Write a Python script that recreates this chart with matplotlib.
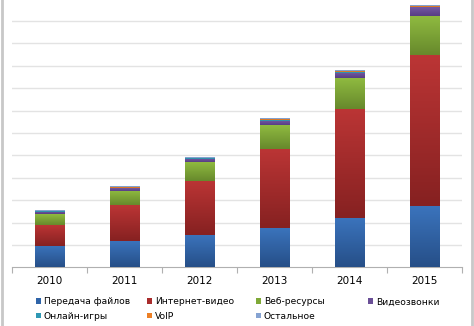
import numpy as np
import matplotlib
matplotlib.use("Agg")
import matplotlib.pyplot as plt
from matplotlib.colors import LinearSegmentedColormap
from matplotlib.lines import Line2D

plt.rcParams['font.family'] = ['DejaVu Sans']

# данные (оценка по картинке)
years = ['2010', '2011', '2012', '2013', '2014', '2015']
peredacha = [0.96, 1.19, 1.43, 1.75, 2.19, 2.75]
video = [0.93, 1.59, 2.44, 3.53, 4.88, 6.73]
veb = [0.48, 0.63, 0.82, 1.07, 1.37, 1.74]
zvonki = [0.11, 0.12, 0.16, 0.20, 0.25, 0.39]
igry = [0.02, 0.02, 0.02, 0.03, 0.03, 0.03]
voip = [0.02, 0.02, 0.03, 0.03, 0.04, 0.04]
ostalnoe = [0.01, 0.01, 0.01, 0.01, 0.02, 0.02]

series = [peredacha, video, veb, zvonki, igry, voip, ostalnoe]
labels = ['Передача файлов', 'Интернет-видео', 'Веб-ресурсы', 'Видеозвонки',
          'Онлайн-игры', 'VoIP', 'Остальное']
# (верх, низ) градиента и цвет легенды
colors = [('#3b74bd', '#264f88', '#2f64a8'),
          ('#bb3535', '#862121', '#a92c2c'),
          ('#8fba40', '#67892c', '#7fa937'),
          ('#7459a3', '#583e84', '#6a4f97'),
          ('#3aa5c0', '#2a8199', '#2f98b4'),
          ('#f08a30', '#c86a1e', '#ec7f25'),
          ('#93afd8', '#7494c4', '#86a3d2')]

fig = plt.figure(figsize=(4.74, 3.26), dpi=100)
ax = fig.add_axes([12/474, 58.7/326, 450/474, 268.8/326])

x = np.arange(len(years))
w = 0.4
bottom = np.zeros(len(years))
handles = []
for vals, (top_c, bot_c, mid_c) in zip(series, colors):
    bars = ax.bar(x, vals, width=w, bottom=bottom, color=mid_c, edgecolor='none', zorder=2)
    handles.append(bars)
    cmap = LinearSegmentedColormap.from_list('g', [bot_c, top_c])
    grad = np.linspace(1, 0, 64).reshape(-1, 1)
    for b in bars:
        x0, y0 = b.get_x(), b.get_y()
        ax.imshow(grad, cmap=cmap, extent=[x0, x0 + b.get_width(), y0, y0 + b.get_height()],
                  aspect='auto', zorder=3, interpolation='bilinear')
    bottom += np.array(vals)

ax.set_xlim(-0.5, 5.5)
ax.set_ylim(0, 12)
ax.set_yticks(np.arange(1, 12))
ax.yaxis.grid(True, color='#e3e3e3', linewidth=1)
ax.set_axisbelow(True)
ax.tick_params(axis='y', length=0, labelleft=False)
ax.set_xticks(x)
ax.set_xticklabels(years, fontsize=7.5)
ax.tick_params(axis='x', length=0, pad=6)
ax.set_xticks(np.arange(-0.5, 6, 1), minor=True)
ax.tick_params(axis='x', which='minor', length=4, color='#b0b0b0', width=0.8)
for s in ['top', 'right', 'left']:
    ax.spines[s].set_visible(False)
ax.spines['bottom'].set_color('#b0b0b0')
ax.spines['bottom'].set_linewidth(0.8)

# легенда: четыре колонки одинаковой ширины
col_x = [36/474, 147/474, 256/474, 368/474]
for j in range(4):
    hs = handles[j::4]
    ls = labels[j::4]
    fig.legend(hs, ls, loc='upper left', bbox_to_anchor=(col_x[j], 1 - 297.5/326),
               frameon=False, fontsize=6.6, handlelength=0.55, handleheight=0.55,
               handletextpad=0.3, labelspacing=0.55, borderpad=0, borderaxespad=0)

# рамка диаграммы
fig.add_artist(Line2D([1.5/474, 1.5/474], [0, 1], color='#c8c8c8', linewidth=2))
fig.add_artist(Line2D([471.5/474, 471.5/474], [0, 1], color='#c8c8c8', linewidth=2))

fig.savefig('out.png', dpi=100)
